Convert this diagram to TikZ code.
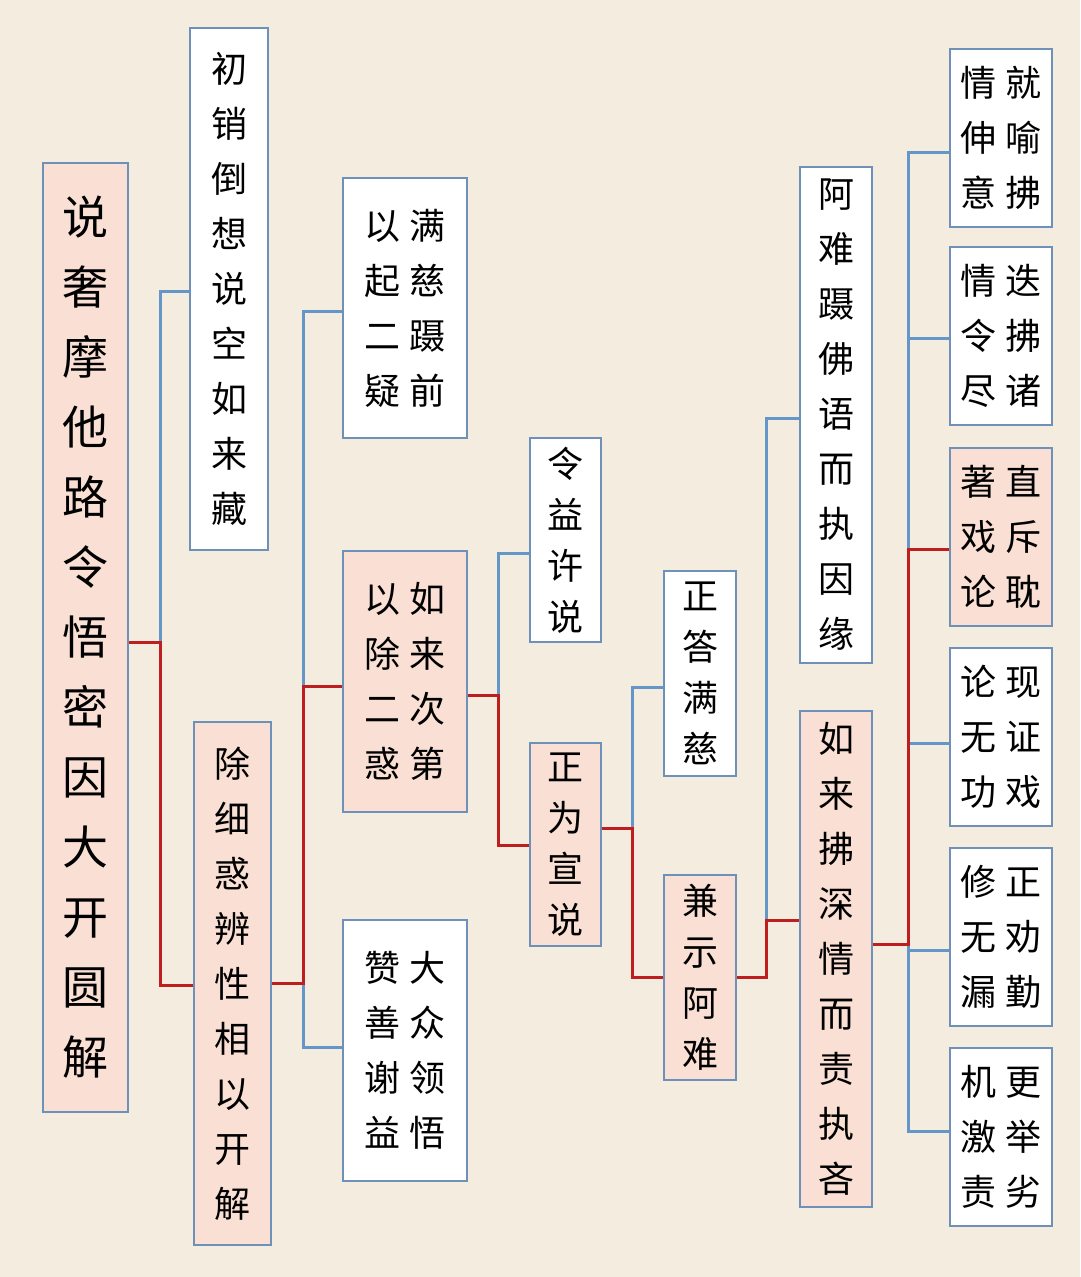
\documentclass[tikz,border=0pt]{standalone}
\usepackage{fontspec}
\setmainfont{Noto Sans CJK SC}
\definecolor{bg}{RGB}{244,236,222}
\definecolor{frame}{RGB}{110,145,185}
\definecolor{pinkfill}{RGB}{250,224,212}
\definecolor{redline}{RGB}{190,30,30}
\definecolor{blueline}{RGB}{100,150,200}
\begin{document}
\begin{tikzpicture}[x=1pt,y=-1pt]
    % Define styles
    \tikzset{
        box/.style={draw=frame, line width=2.2pt, fill=white, inner sep=0pt, align=center, font=\fontsize{36}{55}\selectfont},
        hot/.style={box, fill=pinkfill},
        short/.style={font=\fontsize{36}{51}\selectfont},
        red/.style={draw=redline, line width=3pt},
        blue/.style={draw=blueline, line width=3pt}
    }
    \fill[bg] (0,0) rectangle (1080,1277);
    \useasboundingbox (0,0) rectangle (1080,1277);

    % Level 1
    \node[hot, minimum width=85pt, minimum height=949pt, font=\fontsize{46}{70}\selectfont] (root) at (85.5,637.5) {说\\奢\\摩\\他\\路\\令\\悟\\密\\因\\大\\开\\圆\\解};

    % Level 2
    \node[box, minimum width=78pt, minimum height=522pt] (xiao) at (229,289) {初\\销\\倒\\想\\说\\空\\如\\来\\藏};
    \node[hot, minimum width=77pt, minimum height=523pt] (chu) at (232.5,983.5) {除\\细\\惑\\辨\\性\\相\\以\\开\\解};

    % Level 3
    \node[box, minimum width=124pt, minimum height=260pt] (man) at (405,308) {以\hspace{10pt}满\\起\hspace{10pt}慈\\二\hspace{10pt}蹑\\疑\hspace{10pt}前};
    \node[hot, minimum width=124pt, minimum height=261pt] (rulai) at (405,681.5) {以\hspace{10pt}如\\除\hspace{10pt}来\\二\hspace{10pt}次\\惑\hspace{10pt}第};
    \node[box, minimum width=124pt, minimum height=261pt] (dazhong) at (405,1050.5) {赞\hspace{10pt}大\\善\hspace{10pt}众\\谢\hspace{10pt}领\\益\hspace{10pt}悟};

    % Level 4
    \node[box, short, minimum width=71pt, minimum height=204pt] (lingyi) at (565.5,540) {令\\益\\许\\说};
    \node[hot, short, minimum width=71pt, minimum height=203pt] (zhengwei) at (565.5,844.5) {正\\为\\宣\\说};

    % Level 5
    \node[box, short, minimum width=72pt, minimum height=205pt] (zhengda) at (700,673.5) {正\\答\\满\\慈};
    \node[hot, short, minimum width=72pt, minimum height=205pt] (jianshi) at (700,977.5) {兼\\示\\阿\\难};

    % Level 6
    \node[box, minimum width=72pt, minimum height=496pt] (anan) at (836,415) {阿\\难\\蹑\\佛\\语\\而\\执\\因\\缘};
    \node[hot, minimum width=72pt, minimum height=496pt] (fu) at (836,959) {如\\来\\拂\\深\\情\\而\\责\\执\\吝};

    % Level 7
    \node[box, minimum width=102pt, minimum height=178pt] (r1) at (1001,138) {情\hspace{10pt}就\\伸\hspace{10pt}喻\\意\hspace{10pt}拂};
    \node[box, minimum width=102pt, minimum height=178pt] (r2) at (1001,336) {情\hspace{10pt}迭\\令\hspace{10pt}拂\\尽\hspace{10pt}诸};
    \node[hot, minimum width=102pt, minimum height=178pt] (r3) at (1001,537) {著\hspace{10pt}直\\戏\hspace{10pt}斥\\论\hspace{10pt}耽};
    \node[box, minimum width=102pt, minimum height=178pt] (r4) at (1001,737) {论\hspace{10pt}现\\无\hspace{10pt}证\\功\hspace{10pt}戏};
    \node[box, minimum width=102pt, minimum height=178pt] (r5) at (1001,937) {修\hspace{10pt}正\\无\hspace{10pt}劝\\漏\hspace{10pt}勤};
    \node[box, minimum width=102pt, minimum height=178pt] (r6) at (1001,1137) {机\hspace{10pt}更\\激\hspace{10pt}举\\责\hspace{10pt}劣};

    % Connectors
    \draw[blue] (160,642) |- (xiao.west |- 0,291);
    \draw[red] (root.east |- 0,642) -- (160,642) |- (chu.west |- 0,985);

    \draw[blue] (303,983) |- (man.west |- 0,311);
    \draw[blue] (303,983) |- (dazhong.west |- 0,1047);
    \draw[red] (chu.east |- 0,983) -- (303,983) |- (rulai.west |- 0,686);

    \draw[blue] (498,695) |- (lingyi.west |- 0,553);
    \draw[red] (rulai.east |- 0,695) -- (498,695) |- (zhengwei.west |- 0,845);

    \draw[blue] (632,828) |- (zhengda.west |- 0,687);
    \draw[red] (zhengwei.east |- 0,828) -- (632,828) |- (jianshi.west |- 0,977);

    \draw[blue] (766,920) |- (anan.west |- 0,418);
    \draw[red] (jianshi.east |- 0,977) -- (766,977) |- (fu.west |- 0,920);

    \foreach \n/\y in {r1/152, r2/338, r4/743, r5/950, r6/1131}
        \draw[blue] (908,944) |- (\n.west |- 0,\y);
    \draw[red] (fu.east |- 0,944) -- (908,944) |- (r3.west |- 0,549);
\end{tikzpicture}
\end{document}
